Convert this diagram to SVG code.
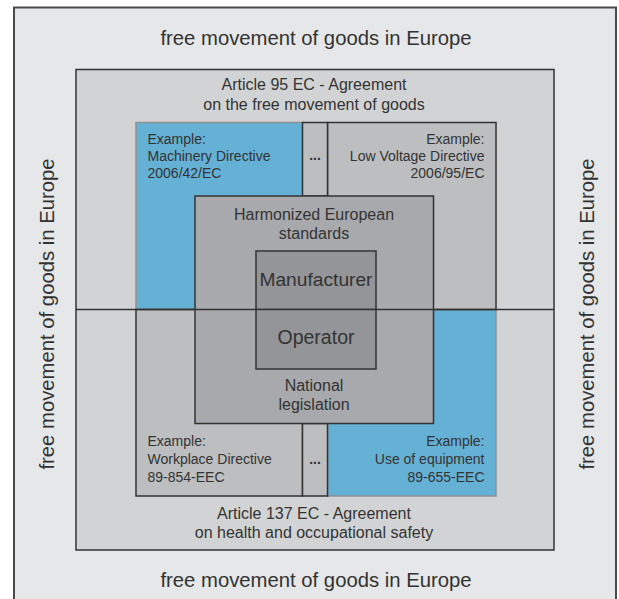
<svg xmlns="http://www.w3.org/2000/svg" width="619" height="599" viewBox="0 0 619 599">
<style>
text{font-family:"Liberation Sans",Arial,sans-serif;fill:#333}
.big{font-size:20.3px}
.mid{font-size:16px}
.sm{font-size:14px}
.ln{stroke:#333;stroke-width:1.5}
.bl{fill:#65b0d5;stroke:#8e9092;stroke-width:1.5}
.g2{fill:#bcbec0}
.c{text-anchor:middle}
.r{text-anchor:end}
</style>
<rect x="0" y="0" width="619" height="599" fill="#ffffff"/>
<g id="europe">
<rect x="14" y="7.5" width="602" height="640" fill="#e6e7e8" stroke="#4a4a4a" stroke-width="2"/>
<text class="big c" x="316" y="45">free movement of goods in Europe</text>
<text class="big c" x="316" y="587">free movement of goods in Europe</text>
<text class="big c" transform="translate(53.5,314) rotate(-90)">free movement of goods in Europe</text>
<text class="big c" transform="translate(593.5,314) rotate(-90)">free movement of goods in Europe</text>
</g>
<g id="articles">
<rect class="ln" x="76" y="69.5" width="478" height="480.5" fill="#d1d3d4"/>
<text class="mid c" x="314" y="89.5">Article 95 EC - Agreement</text>
<text class="mid c" x="314" y="109.5">on the free movement of goods</text>
<text class="mid c" x="314" y="518.5">Article 137 EC - Agreement</text>
<text class="mid c" x="314" y="538">on health and occupational safety</text>
</g>
<g id="machinery">
<rect class="bl" x="136" y="122.5" width="166.5" height="187"/>
<text class="sm" x="147.5" y="143.5">Example:</text>
<text class="sm" x="147.5" y="160.5">Machinery Directive</text>
<text class="sm" x="147.5" y="178">2006/42/EC</text>
</g>
<g id="use-of-equipment">
<rect class="bl" x="327.5" y="309.5" width="168.5" height="186.5"/>
<text class="sm r" x="484.5" y="446">Example:</text>
<text class="sm r" x="484.5" y="463.5">Use of equipment</text>
<text class="sm r" x="484.5" y="482">89-655-EEC</text>
</g>
<g id="low-voltage">
<rect class="ln g2" x="327.5" y="122.5" width="168.5" height="187"/>
<text class="sm r" x="484.5" y="143.5">Example:</text>
<text class="sm r" x="484.5" y="160.5">Low Voltage Directive</text>
<text class="sm r" x="484.5" y="178">2006/95/EC</text>
</g>
<g id="workplace">
<rect class="ln g2" x="136" y="309.5" width="166.5" height="186.5"/>
<text class="sm" x="147.5" y="446">Example:</text>
<text class="sm" x="147.5" y="463.5">Workplace Directive</text>
<text class="sm" x="147.5" y="482">89-854-EEC</text>
</g>
<g id="more-top">
<rect class="ln g2" x="302.5" y="122.5" width="25" height="73.5"/>
<text class="sm c" x="315" y="160" font-weight="bold">...</text>
</g>
<g id="more-bottom">
<rect class="ln g2" x="302.5" y="423.5" width="25" height="72.5"/>
<text class="sm c" x="315" y="463.5" font-weight="bold">...</text>
</g>
<g id="harmonized">
<rect class="ln" x="195" y="196" width="238.5" height="227.5" fill="#a7a9ac"/>
<text class="mid c" x="314" y="219.5">Harmonized European</text>
<text class="mid c" x="314" y="238.5">standards</text>
<text class="mid c" x="314" y="391">National</text>
<text class="mid c" x="314" y="410">legislation</text>
</g>
<g id="connectors">
<line class="ln" x1="76" y1="309.5" x2="554" y2="309.5"/>
</g>
<g id="manufacturer">
<rect class="ln" x="256" y="251" width="120" height="58.5" fill="#939598"/>
<text x="316" y="286" class="c" font-size="19.2px">Manufacturer</text>
</g>
<g id="operator">
<rect class="ln" x="256" y="309.5" width="120" height="59.5" fill="#939598"/>
<text x="316" y="343.5" class="c" font-size="19.5px">Operator</text>
</g>
</svg>
